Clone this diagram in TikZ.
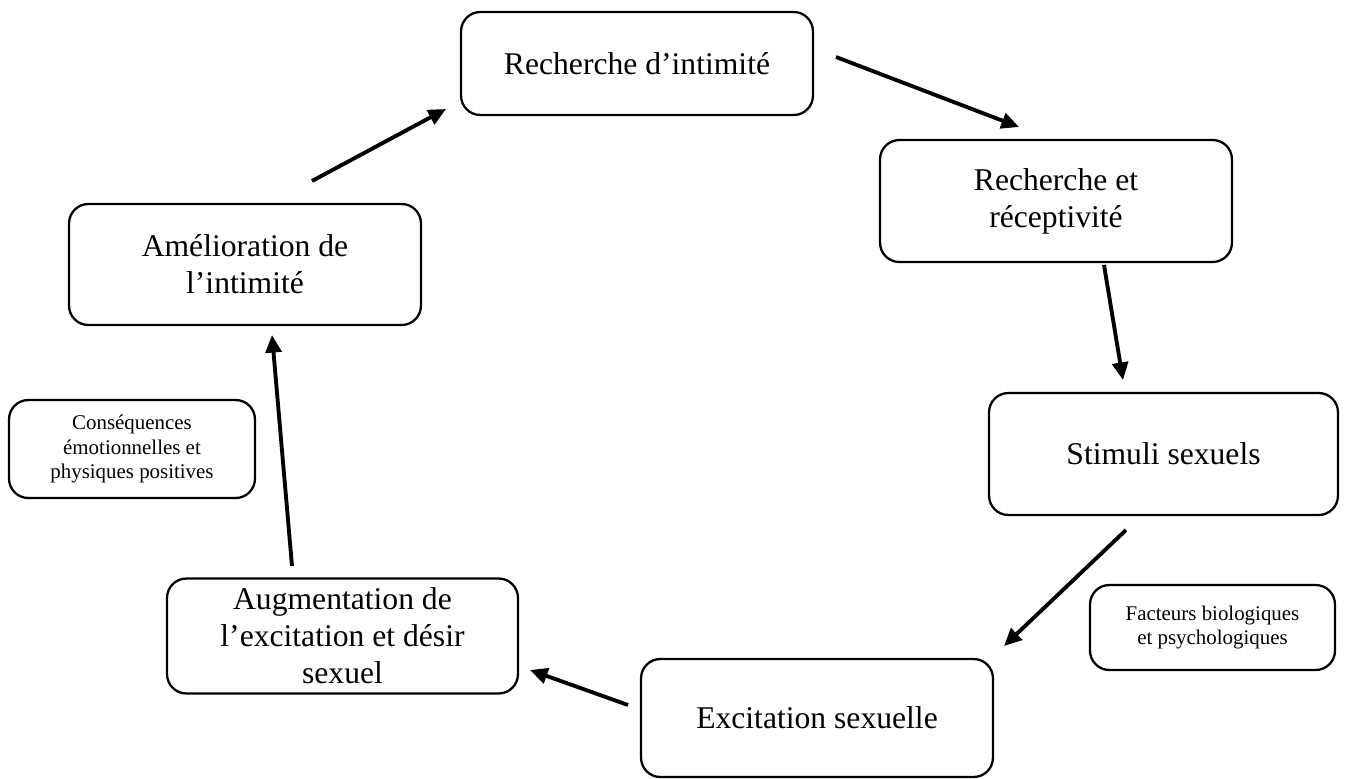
\documentclass[tikz,border=0pt]{standalone}
\usepackage{fontspec}
\setmainfont{Liberation Serif}
\usetikzlibrary{arrows.meta}
\begin{document}
\begin{tikzpicture}[x=0.02cm,y=-0.02cm,
  box/.style={draw,rounded corners=11pt,line width=1.3pt,align=center,inner sep=0pt,
    font=\fontsize{18}{21}\selectfont},
  smallbox/.style={box,font=\fontsize{11.9}{13.8}\selectfont},
  arr/.style={line width=2.2pt,-{Triangle[length=10pt,width=9pt]}}]
\useasboundingbox (0,0) rectangle (1346,778);
\node[box,minimum width=7.04cm,minimum height=2.06cm] (n1) at (637,63.5) {Recherche d’intimité};
\node[box,minimum width=7.04cm,minimum height=2.44cm] (n2) at (1056,201) {Recherche et\\réceptivité};
\node[box,minimum width=6.98cm,minimum height=2.44cm] (n3) at (1163.5,454) {Stimuli sexuels};
\node[box,minimum width=7.04cm,minimum height=2.36cm] (n4) at (817,718) {Excitation sexuelle};
\node[box,minimum width=7.02cm,minimum height=2.3cm] (n5) at (342.5,636) {Augmentation de\\l’excitation et désir\\sexuel};
\node[box,minimum width=7.04cm,minimum height=2.42cm] (n6) at (245,264.5) {Amélioration de\\l’intimité};
\node[smallbox,minimum width=4.92cm,minimum height=1.96cm] (n7) at (132,449) {Conséquences\\émotionnelles et\\physiques positives};
\node[smallbox,minimum width=4.9cm,minimum height=1.7cm] (n8) at (1212.5,627.5) {Facteurs biologiques\\et psychologiques};
\coordinate (a1s) at (312,181); \coordinate (a1e) at (446,109);
\coordinate (a2s) at (836,57);  \coordinate (a2e) at (1019,127);
\coordinate (a3s) at (1104,265); \coordinate (a3e) at (1123,380);
\coordinate (a4s) at (1126,530); \coordinate (a4e) at (1004,646);
\coordinate (a5s) at (628,705); \coordinate (a5e) at (530,670);
\coordinate (a6s) at (292,566); \coordinate (a6e) at (272,335);
\draw[arr] (a1s) -- (a1e);
\draw[arr] (a2s) -- (a2e);
\draw[arr] (a3s) -- (a3e);
\draw[arr] (a4s) -- (a4e);
\draw[arr] (a5s) -- (a5e);
\draw[arr] (a6s) -- (a6e);
\end{tikzpicture}
\end{document}
